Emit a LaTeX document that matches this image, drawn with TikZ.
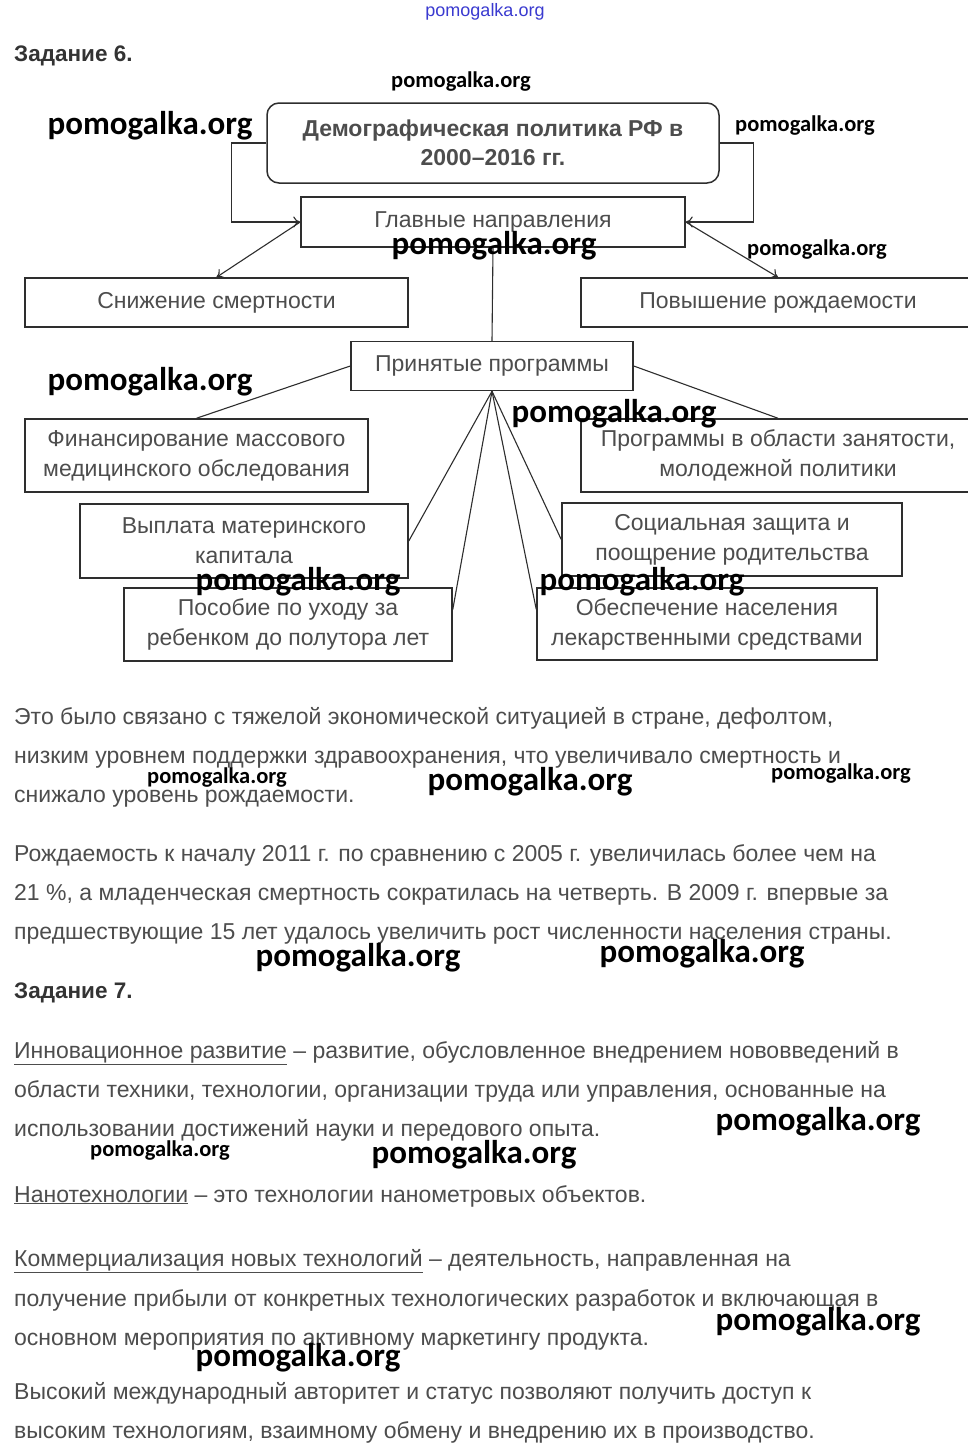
\documentclass[tikz,border=0pt]{standalone}
\usepackage{fontspec}
\setmainfont{Liberation Sans}
\newfontfamily\wmfont{Carlito}
\usetikzlibrary{calc,arrows.meta}

\definecolor{txtgray}{HTML}{4D4D4D}
\definecolor{linegray}{HTML}{2E2E2E}
\definecolor{wmblue}{HTML}{3A3AD0}

\tikzset{
  >={To[length=7pt,width=11pt]},
  box/.style={draw=linegray, line width=1.5pt, inner sep=0pt, align=center,
    text=txtgray, font=\fontsize{23}{30}\selectfont},
  conn/.style={draw=linegray, line width=1.1pt},
  para/.style={anchor=base west, inner sep=0pt, text=txtgray,
    font=\fontsize{23}{26}\selectfont},
  head/.style={anchor=base west, inner sep=0pt, text=black!80,
    font=\bfseries\fontsize{22.5}{26}\selectfont},
  wmbig/.style={inner sep=0pt, font=\wmfont\bfseries\fontsize{33}{33}\selectfont},
  wmsmall/.style={inner sep=0pt, font=\wmfont\bfseries\fontsize{22.5}{23}\selectfont},
}

\begin{document}
\begin{tikzpicture}[x=1pt, y=-1pt]
  \useasboundingbox[fill=white] (0,0) rectangle (968,1454);

  % ---- Задание 6: scheme
  \node[head] (z6) at (14,61) {Задание 6.};

  \node[box, rounded corners=12pt, minimum width=452pt, minimum height=80pt,
        font=\bfseries\fontsize{23}{29}\selectfont] (top) at (493,143)
        {Демографическая политика РФ в\\2000–2016 гг.};
  \node[box, minimum width=384pt, minimum height=50pt] (main) at (493,222) {Главные направления};
  \node[box, minimum width=383pt, minimum height=49pt] (low) at (216.5,302.5) {Снижение смертности};
  \node[box, minimum width=394pt, minimum height=49pt] (birth) at (778,302.5) {Повышение рождаемости};
  \node[box, minimum width=282pt, minimum height=49pt] (prog) at (492,366) {Принятые программы};

  \node[box, minimum width=343pt, minimum height=73pt] (fin) at (196.5,455.5)
        {Финансирование массового\\медицинского обследования};
  \node[box, minimum width=394pt, minimum height=73pt] (work) at (778,455.5)
        {Программы в области занятости,\\молодежной политики};
  \node[box, minimum width=328pt, minimum height=74pt] (cap) at (244,541)
        {Выплата материнского\\капитала};
  \node[box, minimum width=340pt, minimum height=73pt] (soc) at (732,539.5)
        {Социальная защита и\\поощрение родительства};
  \node[box, minimum width=328pt, minimum height=73pt] (care) at (288,624.5)
        {Пособие по уходу за\\ребенком до полутора лет};
  \node[box, minimum width=340pt, minimum height=72pt] (med) at (707,624)
        {Обеспечение населения\\лекарственными средствами};

  \draw[conn, ->] (top.west) -- ++(-35,0) |- (main.west);
  \draw[conn, ->] (top.east) -- ++(34,0) |- (main.east);
  \draw[conn, ->] (main.west) -- (low.north);
  \draw[conn, ->] (main.east) -- (birth.north);
  \draw[conn] (main.south) -- (prog.north);
  \draw[conn] (prog.west) -- (fin.north);
  \draw[conn] (prog.east) -- (work.north);
  \draw[conn] (prog.south) -- (cap.east);
  \draw[conn] (prog.south) -- ($(care.north east)!0.3!(care.south east)$);
  \draw[conn] (prog.south) -- ($(med.north west)!0.3!(med.south west)$);
  \draw[conn] (prog.south) -- (soc.west);

  % ---- text
  \node[para] (p1) at (14,724) {Это было связано с тяжелой экономической ситуацией в стране, дефолтом,};
  \node[para] (p2) at (14,763) {низким уровнем поддержки здравоохранения, что увеличивало смертность и};
  \node[para] (p3) at (14,802) {снижало уровень рождаемости.};
  \node[para] (p4) at (14,861) {Рождаемость к началу 2011 г. по сравнению с 2005 г. увеличилась более чем на};
  \node[para] (p5) at (14,900) {21 \%, а младенческая смертность сократилась на четверть. В 2009 г. впервые за};
  \node[para] (p6) at (14,939) {предшествующие 15 лет удалось увеличить рост численности населения страны.};

  \node[head] (z7) at (14,998) {Задание 7.};

  \node[para] (q1) at (14,1058) {\underline{Инновационное развитие} – развитие, обусловленное внедрением нововведений в};
  \node[para] (q2) at (14,1097) {области техники, технологии, организации труда или управления, основанные на};
  \node[para] (q3) at (14,1136) {использовании достижений науки и передового опыта.};
  \node[para] (q4) at (14,1202) {\underline{Нанотехнологии} – это технологии нанометровых объектов.};
  \node[para] (q5) at (14,1266) {\underline{Коммерциализация новых технологий} – деятельность, направленная на};
  \node[para] (q6) at (14,1306) {получение прибыли от конкретных технологических разработок и включающая в};
  \node[para] (q7) at (14,1345) {основном мероприятия по активному маркетингу продукта.};
  \node[para] (q8) at (14,1399) {Высокий международный авторитет и статус позволяют получить доступ к};
  \node[para] (q9) at (14,1438) {высоким технологиям, взаимному обмену и внедрению их в производство.};

  % ---- watermarks
  \node[inner sep=0pt, text=wmblue, font=\fontsize{18}{18}\selectfont] (wm0) at (485,12) {pomogalka.org};
  \node[wmsmall] (wm1) at (461,82) {pomogalka.org};
  \node[wmbig] (wm2) at (150,126) {pomogalka.org};
  \node[wmsmall] (wm3) at (805,126) {pomogalka.org};
  \node[wmbig] (wm4) at (494,246) {pomogalka.org};
  \node[wmsmall] (wm5) at (817,250) {pomogalka.org};
  \node[wmbig] (wm6) at (150,382) {pomogalka.org};
  \node[wmbig] (wm7) at (614,414) {pomogalka.org};
  \node[wmbig] (wm8) at (298,582) {pomogalka.org};
  \node[wmbig] (wm9) at (642,582) {pomogalka.org};
  \node[wmsmall] (wm10) at (217,778) {pomogalka.org};
  \node[wmbig] (wm11) at (530,782) {pomogalka.org};
  \node[wmsmall] (wm12) at (841,774) {pomogalka.org};
  \node[wmbig] (wm13) at (358,958) {pomogalka.org};
  \node[wmbig] (wm14) at (702,954) {pomogalka.org};
  \node[wmbig] (wm15) at (818,1122) {pomogalka.org};
  \node[wmsmall] (wm16) at (160,1150) {pomogalka.org};
  \node[wmbig] (wm17) at (474,1155) {pomogalka.org};
  \node[wmbig] (wm18) at (818,1322) {pomogalka.org};
  \node[wmbig] (wm19) at (298,1358) {pomogalka.org};
\end{tikzpicture}
\end{document}
